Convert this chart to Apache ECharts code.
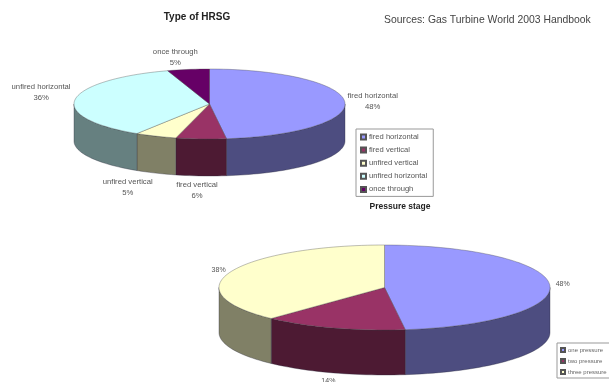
<!DOCTYPE html>
<html>
<head>
<meta charset="utf-8">
<style>html,body{margin:0;padding:0;background:#fff}#c{width:609px;height:382px;filter:blur(0.45px)}</style>
<script src="https://cdn.jsdelivr.net/npm/echarts@6/dist/echarts.min.js"></script>
</head>
<body>
<div id="c"></div>
<script>
const hrsgCategories = ['fired horizontal', 'fired vertical', 'unfired vertical', 'unfired horizontal', 'once through'];
const hrsgValues = [48, 6, 5, 36, 5];
const pressureCategories = ['one pressure', 'two pressure', 'three pressure'];
const pressureValues = [48, 14, 38];

const hrsgTop = ['#9999ff', '#993366', '#ffffcc', '#ccffff', '#660066'];
const hrsgSide = ['#4d4d80', '#4d1a33', '#808066', '#668080', '#330033'];
const pressureTop = ['#9999ff', '#993366', '#ffffcc'];
const pressureSide = ['#4d4d80', '#4d1a33', '#808066'];

const hrsgPie = { cx: 209.5, cy: 104, rx: 135.5, ry: 35, depth: 37, font: 7.7, lh: 11 };
const pressurePie = { cx: 384.5, cy: 287.5, rx: 165.5, ry: 42.5, depth: 45, font: 7, lh: 9 };
const hrsgLabelOffsets = [[28, 0], [-4, 14.5], [-28, 14], [-34, -7], [-13, -12]];
const pressureLabelOffsets = [[13, -1], [-5, 8], [-12, -2]];

function pt(g, deg, down) {
  const r = deg * Math.PI / 180;
  return [g.cx + g.rx * Math.sin(r), g.cy - g.ry * Math.cos(r) + (down ? g.depth : 0)];
}
function arc(g, a0, a1, down) {
  const out = [], n = Math.max(2, Math.ceil((a1 - a0) / 2));
  for (let i = 0; i <= n; i++) out.push(pt(g, a0 + (a1 - a0) * i / n, down));
  return out;
}
function sliceSeries(names, values, tops, sides, g, offsets, showName) {
  const total = values.reduce((a, b) => a + b, 0);
  return names.map((name, idx) => {
    const before = values.slice(0, idx).reduce((a, b) => a + b, 0);
    return {
      type: 'custom',
      name: name,
      coordinateSystem: 'none',
      silent: true,
      itemStyle: { color: tops[idx], borderColor: '#555', borderWidth: 0.6 },
      data: [[values[idx]]],
      renderItem: function (params, api) {
        const v = api.value(0);
        const a0 = before / total * 360, a1 = (before + v) / total * 360;
        const mid = (a0 + a1) / 2;
        const children = [];
        const f0 = Math.max(a0, 90), f1 = Math.min(a1, 270);
        if (f1 > f0) {
          const wall = arc(g, f0, f1, false).concat(arc(g, f0, f1, true).reverse());
          children.push({ type: 'polygon', shape: { points: wall },
            style: { fill: sides[idx], stroke: '#2a2a3a', lineWidth: 0.35 } });
        }
        const top = [[g.cx, g.cy]].concat(arc(g, a0, a1, false));
        children.push({ type: 'polygon', shape: { points: top },
          style: { fill: tops[idx], stroke: '#444', lineWidth: 0.35 }, z2: 2 });
        const anchor = pt(g, mid, mid > 90 && mid < 270);
        const text = (showName ? name + '\n' : '') + v + '%';
        children.push({ type: 'text', z2: 3,
          style: { x: anchor[0] + offsets[idx][0], y: anchor[1] + offsets[idx][1], text: text,
            align: 'center', verticalAlign: 'middle', fill: '#555',
            font: g.font + 'px "Liberation Sans", Arial, sans-serif', lineHeight: g.lh } });
        return { type: 'group', children: children };
      }
    };
  });
}

const sansFont = '"Liberation Sans", Arial, sans-serif';
const chart = echarts.init(document.getElementById('c'), null, { renderer: 'canvas' });
chart.setOption({
  animation: false,
  backgroundColor: '#ffffff',
  title: [
    { text: 'Type of HRSG', left: 197, top: 12, textAlign: 'center', padding: 0,
      textStyle: { fontSize: 10, fontWeight: 'bold', color: '#222', fontFamily: sansFont } },
    { text: 'Pressure stage', left: 400, top: 202, textAlign: 'center', padding: 0,
      textStyle: { fontSize: 8.5, fontWeight: 'bold', color: '#222', fontFamily: sansFont } },
    { text: 'Sources: Gas Turbine World 2003 Handbook', left: 384, top: 15, padding: 0,
      textStyle: { fontSize: 10.4, fontWeight: 'normal', color: '#444', fontFamily: sansFont } }
  ],
  legend: [
    { data: hrsgCategories, orient: 'vertical', left: 356, top: 129, width: 72,
      padding: [4, 6, 3, 4], itemGap: 5.1, itemWidth: 5, itemHeight: 5, icon: 'rect',
      selectedMode: false, borderColor: '#999', borderWidth: 1, backgroundColor: '#fff',
      textStyle: { fontSize: 7.6, color: '#555', fontFamily: sansFont, padding: [0, 0, 0, -2], height: 7.6, lineHeight: 7.6 } },
    { data: pressureCategories, orient: 'vertical', left: 557, top: 343, width: 60,
      padding: [4, 4, 3, 3], itemGap: 5, itemWidth: 4, itemHeight: 4, icon: 'rect',
      selectedMode: false, borderColor: '#999', borderWidth: 1, backgroundColor: '#fff',
      textStyle: { fontSize: 6, color: '#666', fontFamily: sansFont, padding: [0, 0, 0, -2], height: 6, lineHeight: 6 } }
  ],
  series: sliceSeries(hrsgCategories, hrsgValues, hrsgTop, hrsgSide, hrsgPie, hrsgLabelOffsets, true)
    .concat(sliceSeries(pressureCategories, pressureValues, pressureTop, pressureSide, pressurePie, pressureLabelOffsets, false))
});
</script>
</body>
</html>
